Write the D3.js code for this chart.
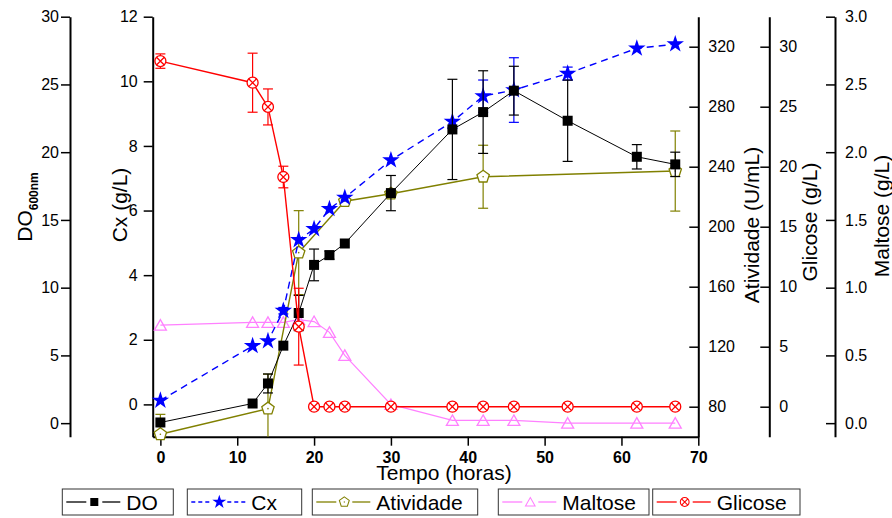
<!DOCTYPE html>
<html lang="en">
  <head>
    <meta charset="UTF-8" />
    <title>Fermentação</title>
    <style>
      body { margin: 0; background: #fff; }
      svg text { font-family: "Liberation Sans", Arial, sans-serif; }
    </style>
  </head>
  <body>
  <div id="chart"></div>

  <script src="https://d3js.org/d3.v7.min.js"></script>
  <script>

var w = 892;
var h = 518;

// tempo (horas)
var tempo = [0, 12, 14, 16, 18, 20, 22, 24, 30, 38, 42, 46, 53, 62, 67];

// DO 600nm
var doVals = [0.05, 1.45, 2.93, 5.72, 8.13, 11.68, 12.4, 13.26, 16.98, 21.68, 22.96, 24.54, 22.32, 19.66, 19.1];
var doErr  = [0, 0, 0.7, 0, 1.3, 1.17, 0.3, 0, 1.3, 3.7, 3.05, 1.8, 3.0, 0.9, 0.9];

// Cx (g/L)
var cxVals = [0.12, 1.81, 1.96, 2.9, 5.09, 5.43, 6.05, 6.4, 7.56, 8.75, 9.54, 9.73, 10.24, 11.02, 11.15];
var cxErr  = [0, 0, 0, 0.1, 0, 0, 0, 0, 0, 0, 0.5, 1.0, 0.2, 0, 0];

// Atividade (U/mL)
var tempoAtiv = [0, 14, 18, 24, 30, 42, 67];
var ativVals  = [61.6, 78.7, 182.7, 217, 222, 233.3, 237.1];
var ativErr   = [13.3, 23, 28, 0, 0, 21, 26.7];

// Maltose (g/L)
var maltVals = [0.724, 0.744, 0.744, 0.744, 0.764, 0.75, 0.67, 0.50, 0.138, 0.02, 0.02, 0.02, 0, 0, 0];

// Glicose (g/L)
var glicVals = [28.8, 27.0, 24.98, 19.14, 6.67, 0, 0, 0, 0, 0, 0, 0, 0, 0, 0];
var glicErr  = [0.6, 2.46, 1.5, 0.9, 3.2, 0, 0, 0, 0, 0, 0, 0, 0, 0, 0];

// ticks
var xTicks = [0, 10, 20, 30, 40, 50, 60, 70];
var doTicks = [0, 5, 10, 15, 20, 25, 30];
var cxTicks = [0, 2, 4, 6, 8, 10, 12];
var ativTicks = [80, 120, 160, 200, 240, 280, 320];
var glicTicks = [0, 5, 10, 15, 20, 25, 30];
var maltTicks = [0, 0.5, 1.0, 1.5, 2.0, 2.5, 3.0];

var legendNames = ["DO", "Cx", "Atividade", "Maltose", "Glicose"];

var colDO = "#000000", colCx = "#0000ff", colAt = "#808000", colMa = "#ff80ff", colGl = "#ff0000";

var yTop = 16.7, yBottom = 436.7;

var x = d3.scaleLinear().domain([-1, 70]).range([152.7, 698.3]);
var yDO = d3.scaleLinear().domain([-1, 30]).range([yBottom, yTop]);
var yCx = d3.scaleLinear().domain([-1, 12]).range([yBottom, yTop]);
var yAt = d3.scaleLinear().domain([60, 340]).range([yBottom, yTop]);
var yGl = d3.scaleLinear().domain([-2.5, 32.5]).range([yBottom, yTop]);
var yMa = d3.scaleLinear().domain([-0.1, 3.0]).range([yBottom, yTop]);

var svg = d3.select("#chart").append("svg")
            .attr("width", w)
            .attr("height", h);

function styleAxis(g) {
  g.selectAll("path.domain").attr("stroke", "#000").attr("stroke-width", 2);
  g.selectAll(".tick line").attr("stroke", "#000").attr("stroke-width", 1.5);
  g.selectAll("text").style("font-size", "16px").attr("fill", "#000");
}

function minorTicks(lo, hi, step) {
  var arr = [];
  for (var v = lo; v <= hi + 1e-9; v += step) arr.push(+v.toFixed(4));
  return arr;
}

// x axis
var gx = svg.append("g").attr("transform", "translate(0," + yBottom + ")");
gx.call(d3.axisBottom(x).tickValues(minorTicks(5, 65, 10)).tickSize(5).tickFormat("").tickSizeOuter(0));
gx.call(d3.axisBottom(x).tickValues(xTicks).tickSize(9).tickPadding(6).tickSizeOuter(0));
styleAxis(gx);
gx.selectAll("text").style("font-weight", "bold");

// left axes
function leftAxis(scale, xpos, major, minor, pad, fmt) {
  var g = svg.append("g").attr("transform", "translate(" + xpos + ",0)");
  g.call(d3.axisLeft(scale).tickValues(minor).tickSize(5).tickFormat("").tickSizeOuter(0));
  var ax = d3.axisLeft(scale).tickValues(major).tickSize(9).tickPadding(pad).tickSizeOuter(0);
  if (fmt) ax.tickFormat(fmt);
  g.call(ax);
  styleAxis(g);
  return g;
}

// right axes: ticks point inward (left), labels to the right
function rightAxis(scale, xpos, major, minor, fmt) {
  var g = svg.append("g").attr("transform", "translate(" + xpos + ",0)");
  g.call(d3.axisLeft(scale).tickValues(minor).tickSize(5).tickFormat("").tickSizeOuter(0));
  var ax = d3.axisLeft(scale).tickValues(major).tickSize(9).tickSizeOuter(0);
  if (fmt) ax.tickFormat(fmt);
  g.call(ax);
  styleAxis(g);
  g.selectAll(".tick text").attr("x", 10).attr("text-anchor", "start");
  return g;
}

leftAxis(yDO, 70, doTicks, minorTicks(2.5, 27.5, 5), 2);
leftAxis(yCx, 152.7, cxTicks, minorTicks(1, 11, 2), 6);
rightAxis(yAt, 698.3, ativTicks, minorTicks(60, 340, 40).concat([340]), null);
rightAxis(yGl, 769.3, glicTicks, minorTicks(-2.5, 32.5, 5), null);
rightAxis(yMa, 835, maltTicks, minorTicks(0.25, 2.75, 0.5), d3.format(".1f"));

// axis titles
var doTitle = svg.append("text")
   .attr("transform", "translate(32,207) rotate(-90)")
   .attr("text-anchor", "middle")
   .style("font-size", "21px");
doTitle.append("tspan").text("DO");
doTitle.append("tspan").attr("dy", 6).style("font-size", "12px").style("font-weight", "bold").text("600nm");

function yTitle(txt, xx, yy) {
  svg.append("text")
     .attr("transform", "translate(" + xx + "," + yy + ") rotate(-90)")
     .attr("text-anchor", "middle")
     .style("font-size", "21px")
     .text(txt);
}
yTitle("Cx (g/L)", 127, 205);
yTitle("Atividade (U/mL)", 759, 225);
yTitle("Glicose (g/L)", 817, 222);
yTitle("Maltose (g/L)", 889, 216);

svg.append("text")
   .attr("x", 444).attr("y", 480)
   .attr("text-anchor", "middle")
   .style("font-size", "21px")
   .text("Tempo (horas)");

// markers
function pentagon(r) {
  var p = d3.path();
  for (var i = 0; i < 5; i++) {
    var a = -Math.PI / 2 + i * 2 * Math.PI / 5;
    if (i == 0) p.moveTo(r * Math.cos(a), r * Math.sin(a));
    else p.lineTo(r * Math.cos(a), r * Math.sin(a));
  }
  p.closePath();
  return p.toString();
}

function drawMarker(g, kind) {
  if (kind == "DO") {
    g.append("rect").attr("x", -5).attr("y", -5).attr("width", 10).attr("height", 10).attr("fill", colDO);
  } else if (kind == "Cx") {
    g.append("path").attr("d", d3.symbol().type(d3.symbolStar).size(95)()).attr("fill", colCx);
  } else if (kind == "Atividade") {
    g.append("path").attr("d", pentagon(6.5)).attr("fill", "#fff").attr("stroke", colAt).attr("stroke-width", 1.3);
    g.append("circle").attr("r", 0.8).attr("fill", colAt);
  } else if (kind == "Maltose") {
    g.append("path").attr("d", "M0,-5.5L6,5L-6,5Z").attr("fill", "none").attr("stroke", colMa).attr("stroke-width", 1.3);
  } else {
    g.append("circle").attr("r", 5.5).attr("fill", "#fff").attr("stroke", colGl).attr("stroke-width", 1.3);
    g.append("path").attr("d", "M-3.9,-3.9L3.9,3.9M-3.9,3.9L3.9,-3.9").attr("stroke", colGl).attr("stroke-width", 1.3);
  }
}

function drawSeries(name, xs, ys, errs, yScale, color, dash, width) {
  var pts = xs.map(function(t, i) { return { t: t, v: ys[i], e: errs ? errs[i] : 0 }; });

  var line = d3.line()
               .x(function(d) { return x(d.t); })
               .y(function(d) { return yScale(d.v); });

  svg.append("path")
     .datum(pts)
     .attr("d", line)
     .attr("fill", "none")
     .attr("stroke", color)
     .attr("stroke-width", width)
     .attr("stroke-dasharray", dash);

  var eb = svg.append("g").attr("stroke", color).attr("stroke-width", 1.2);
  pts.filter(function(d) { return d.e > 0; }).forEach(function(d) {
    var cx = x(d.t), y1 = yScale(d.v + d.e), y2 = Math.min(yScale(d.v - d.e), yBottom);
    eb.append("line").attr("x1", cx).attr("x2", cx).attr("y1", y1).attr("y2", y2);
    eb.append("line").attr("x1", cx - 5).attr("x2", cx + 5).attr("y1", y1).attr("y2", y1);
    if (yScale(d.v - d.e) <= yBottom)
      eb.append("line").attr("x1", cx - 5).attr("x2", cx + 5).attr("y1", y2).attr("y2", y2);
  });

  svg.selectAll("g.m-" + name)
     .data(pts)
     .enter()
     .append("g")
     .attr("class", "m-" + name)
     .attr("transform", function(d) { return "translate(" + x(d.t) + "," + yScale(d.v) + ")"; })
     .each(function() { drawMarker(d3.select(this), name); });
}

drawSeries("Maltose", tempo, maltVals, null, yMa, colMa, null, 1.2);
drawSeries("Atividade", tempoAtiv, ativVals, ativErr, yAt, colAt, null, 1.4);
drawSeries("Cx", tempo, cxVals, cxErr, yCx, colCx, "7,5", 1.4);
drawSeries("DO", tempo, doVals, doErr, yDO, colDO, null, 1);
drawSeries("Glicose", tempo, glicVals, glicErr, yGl, colGl, null, 1.4);

// legend
var boxes = [[62.3, 173.3], [187.3, 301.7], [312.3, 477.7], [498.3, 649], [652.7, 800]];
var legColors = [colDO, colCx, colAt, colMa, colGl];
var legDash = [null, "4,3", null, null, null];

boxes.forEach(function(b, i) {
  var g = svg.append("g").attr("transform", "translate(" + b[0] + ",489)");
  g.append("rect").attr("width", b[1] - b[0]).attr("height", 26)
   .attr("fill", "#fff").attr("stroke", "#333").attr("stroke-width", 1);
  g.append("line").attr("x1", 4).attr("x2", 24).attr("y1", 13).attr("y2", 13)
   .attr("stroke", legColors[i]).attr("stroke-width", 1.3).attr("stroke-dasharray", legDash[i]);
  g.append("line").attr("x1", 40).attr("x2", 58).attr("y1", 13).attr("y2", 13)
   .attr("stroke", legColors[i]).attr("stroke-width", 1.3).attr("stroke-dasharray", legDash[i]);
  var m = g.append("g").attr("transform", "translate(32,13) scale(0.8)");
  drawMarker(m, legendNames[i]);
  g.append("text").attr("x", 64).attr("y", 20.5)
   .style("font-size", "21px")
   .text(legendNames[i]);
});

</script>

  </body>
</html>
